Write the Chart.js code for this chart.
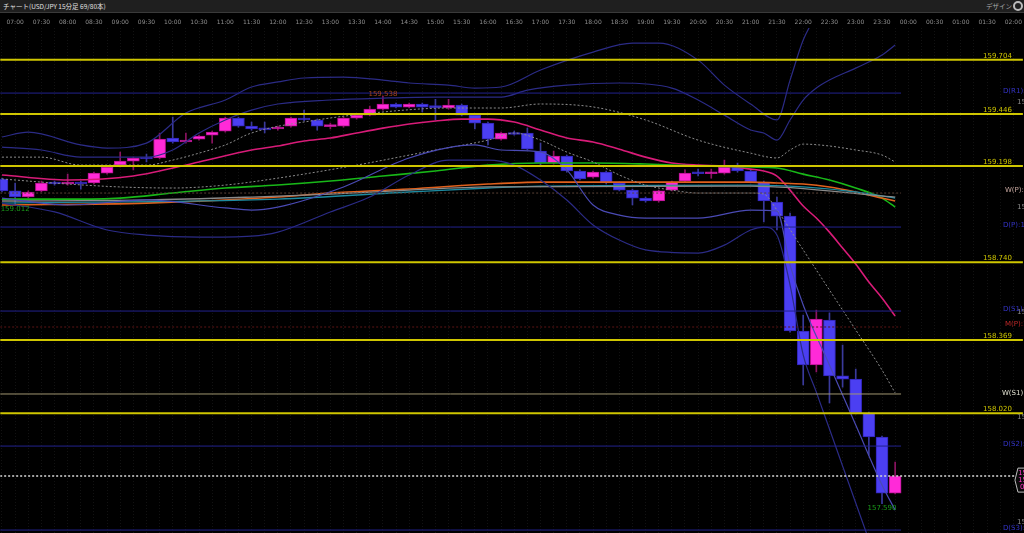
<!DOCTYPE html>
<html><head><meta charset="utf-8">
<script src="https://cdn.jsdelivr.net/npm/chart.js@4/dist/chart.umd.min.js"></script>
<style>
html,body{margin:0;padding:0;background:#000;width:1024px;height:533px;overflow:hidden;}
canvas{position:absolute;left:0;top:0;}
#hdr{position:absolute;left:0;top:0;width:1024px;height:12px;background:#1f1f1f;border-bottom:1px solid #3a3a3a;font:6.5px "Noto Sans CJK JP",sans-serif;color:#e0e0e0;}
#hdr .t{position:absolute;left:3px;top:0;line-height:12px;}
#hdr .r{position:absolute;right:12px;top:0;line-height:12px;color:#a8a8a8;}
#hdr .g{position:absolute;right:1px;top:1px;width:6px;height:6px;border-radius:50%;border:2px solid #bbb;}
</style></head>
<body>
<canvas id="c" width="1024" height="533"></canvas>
<div id="hdr"><span class="t">チャート(USD/JPY 15分足 69/80本)</span><span class="r">デザイン</span><span class="g"></span></div>
<script>
// ---- data ----
const FIRST_INDEX = -1; // first candle = 06:45, index 0 = 07:00, one index = 15 min
const X_MIN = -1.14, X_MAX = 76.73, Y_MIN = 157.450, Y_MAX = 159.855;
const timeLabels = ['07:00','07:30','08:00','08:30','09:00','09:30','10:00','10:30','11:00','11:30','12:00','12:30','13:00','13:30','14:00','14:30','15:00','15:30','16:00','16:30','17:00','17:30','18:00','18:30','19:00','19:30','20:00','20:30','21:00','21:30','22:00','22:30','23:00','23:30','00:00','00:30','01:00','01:30','02:00'];
const yTicks = [157.5, 158.0, 158.5, 159.0, 159.5];

const opens = [159.136,159.079,159.050,159.079,159.121,159.112,159.121,159.117,159.164,159.202,159.221,159.236,159.236,159.331,159.312,159.326,159.345,159.364,159.426,159.388,159.379,159.374,159.388,159.426,159.417,159.385,159.388,159.426,159.440,159.469,159.493,159.478,159.493,159.484,159.474,159.488,159.440,159.402,159.326,159.356,159.355,159.269,159.212,159.245,159.174,159.145,159.169,159.117,159.083,159.045,159.031,159.083,159.126,159.166,159.161,159.164,159.193,159.174,159.121,159.026,158.959,158.412,158.250,158.464,158.198,158.183,158.021,157.907,157.640];
const highs = [159.140,159.117,159.079,159.126,159.126,159.159,159.126,159.169,159.198,159.264,159.240,159.255,159.355,159.431,159.355,159.345,159.364,159.431,159.431,159.407,159.407,159.388,159.431,159.464,159.421,159.402,159.431,159.445,159.483,159.530,159.498,159.498,159.498,159.515,159.515,159.493,159.445,159.407,159.359,159.364,159.378,159.307,159.269,159.250,159.179,159.174,159.174,159.121,159.088,159.050,159.083,159.126,159.179,159.183,159.183,159.226,159.212,159.179,159.126,159.050,158.974,158.488,158.512,158.498,158.345,158.231,158.026,157.912,157.788];
const lows = [159.074,159.012,159.045,159.074,159.107,159.107,159.088,159.112,159.159,159.193,159.179,159.217,159.231,159.307,159.307,159.321,159.307,159.359,159.383,159.369,159.355,159.369,159.383,159.412,159.369,159.374,159.383,159.421,159.436,159.464,159.474,159.474,159.455,159.417,159.469,159.436,159.374,159.298,159.321,159.345,159.274,159.198,159.207,159.169,159.131,159.140,159.112,159.079,159.012,159.026,159.026,159.079,159.121,159.150,159.140,159.159,159.169,159.117,158.931,158.893,158.407,158.155,158.217,158.069,158.145,158.017,157.821,157.590,157.636];
const closes = [159.079,159.050,159.074,159.117,159.112,159.121,159.112,159.164,159.193,159.221,159.236,159.231,159.326,159.312,159.321,159.340,159.359,159.426,159.388,159.374,159.370,159.383,159.426,159.417,159.388,159.390,159.426,159.440,159.469,159.493,159.478,159.493,159.478,159.476,159.488,159.440,159.402,159.326,159.355,159.348,159.278,159.212,159.245,159.174,159.136,159.169,159.117,159.083,159.045,159.031,159.079,159.121,159.164,159.161,159.165,159.193,159.174,159.121,159.031,158.959,158.412,158.250,158.469,158.198,158.183,158.021,157.907,157.640,157.721];

const yellowLevels = [159.704, 159.446, 159.198, 158.740, 158.369, 158.020];
const dailyPivotNames = ['D(R1)','D(P)','D(S1)','D(S2)','D(S3)'];
const dailyPivotValues = [159.545, 158.907, 158.507, 157.864, 157.464];
const weeklyPivot = 159.069, monthlyPivot = 158.431, weeklyS1 = 158.112;
const lastPrice = 157.721, lastAsk = 157.724, spreadText = '0.3';
const highLabel = {idx: 28, value: 159.530, text: '159.538'};
const lowLabel = {idx: 66, value: 157.590, text: '157.590'};
const leftLowLabel = {idx: 0, value: 159.012, text: '159.012'};

// indicator lines: [candle index, price]
const maFast = [[-1,159.155],[4,159.131],[9,159.150],[14,159.217],[18,159.274],[20,159.293],[22,159.317],[24,159.331],[26,159.355],[28,159.378],[30,159.398],[32,159.412],[34,159.421],[36,159.421],[38,159.407],[40,159.369],[42,159.331],[44,159.312],[46,159.278],[48,159.240],[50,159.212],[52,159.202],[54,159.198],[56,159.183],[57,159.174],[58,159.150],[59,159.083],[60,159.007],[61,158.950],[62,158.883],[63,158.807],[64,158.731],[65,158.645],[66,158.569],[67,158.483]];
const maGreen = [[-1,159.040],[4,159.040],[8,159.045],[12,159.069],[16,159.093],[20,159.107],[24,159.126],[28,159.150],[32,159.174],[36,159.202],[40,159.212],[44,159.212],[48,159.207],[52,159.198],[56,159.193],[58,159.188],[60,159.159],[62,159.131],[64,159.093],[66,159.045],[67,159.002]];
const maOrange = [[-1,159.012],[10,159.021],[20,159.050],[24,159.069],[30,159.088],[36,159.112],[40,159.121],[56,159.121],[58,159.117],[60,159.112],[62,159.098],[64,159.074],[66,159.045],[67,159.031]];
const maTeal = [[-1,159.021],[20,159.040],[30,159.074],[36,159.093],[40,159.102],[56,159.107],[60,159.098],[64,159.074],[67,159.045]];
const maGrey = [[-1,159.031],[10,159.036],[18,159.050],[24,159.064],[30,159.083],[36,159.098],[56,159.102],[67,159.050]];
const bandMid = [[-1,159.240],[2,159.240],[5,159.202],[10,159.202],[12,159.226],[14,159.259],[16,159.298],[18,159.355],[23,159.417],[28,159.455],[33,159.474],[37,159.474],[40,159.493],[44,159.479],[48,159.417],[52,159.321],[56,159.259],[58,159.236],[59,159.274],[60,159.302],[62,159.293],[64,159.274],[66,159.250],[67,159.217]];
const fastDotted = [[-1,159.136],[4,159.112],[8,159.098],[12,159.093],[16,159.107],[20,159.140],[26,159.202],[32,159.274],[36,159.321],[38,159.355],[40,159.321],[42,159.264],[44,159.217],[46,159.155],[48,159.107],[50,159.083],[52,159.069],[56,159.069],[57,159.064],[58,158.988],[60,158.798],[62,158.607],[64,158.417],[66,158.226],[67,158.117]];
const upper2 = [[-1,159.336],[1,159.359],[5,159.298],[7,159.283],[10,159.307],[13,159.450],[16,159.512],[18,159.574],[20,159.598],[22,159.617],[25,159.621],[28,159.607],[30,159.593],[33,159.583],[35,159.569],[37,159.574],[40,159.655],[44,159.740],[47,159.783],[49,159.783],[52,159.702],[54,159.583],[56,159.493],[58,159.417],[59,159.607],[60,159.798],[61,159.917]];
const upper1 = [[-1,159.288],[2,159.274],[5,159.240],[10,159.240],[12,159.274],[14,159.355],[16,159.417],[18,159.464],[20,159.493],[24,159.512],[28,159.521],[32,159.526],[37,159.526],[39,159.559],[42,159.583],[46,159.593],[50,159.569],[52,159.512],[54,159.440],[56,159.369],[57,159.355],[58,159.321],[59,159.417],[60,159.512],[61,159.569],[62,159.607],[64,159.664],[66,159.726],[67,159.774]];
const lower1 = [[-1,159.045],[4,159.012],[10,159.036],[16,158.998],[18,158.988],[20,159.002],[25,159.098],[30,159.236],[35,159.298],[37,159.274],[40,159.264],[42,159.179],[44,159.012],[46,158.964],[48,158.950],[52,158.950],[56,158.988],[58,158.983],[59,158.726],[60,158.536],[62,158.250],[64,157.964],[66,157.679],[67,157.559]];
const lower2 = [[-1,159.021],[3,158.979],[7,158.893],[10,158.869],[14,158.859],[18,158.864],[20,158.883],[24,158.979],[27,159.050],[30,159.155],[33,159.226],[36,159.226],[38,159.202],[40,159.131],[42,159.036],[44,158.917],[46,158.845],[48,158.798],[52,158.783],[54,158.821],[56,158.893],[57,158.907],[58,158.869],[59,158.631],[60,158.298],[61,158.121],[62,157.945],[63,157.769],[64,157.593],[65,157.417]];

// ---- build ----
const PIVOT_END = 67.45;
const isUp = opens.map((o, i) => closes[i] >= o);
const BULL = '#ff2ad8', BULL_B = '#b3128e', BEAR = '#4b3ff2', BEAR_B = '#3024b4';
const WICK_UP = '#8c1462', WICK_DN = '#3a3a9c';

function lineDs(pts, color, width, dash, order) {
  return {type:'line', data: pts.map(p => ({x:p[0], y:p[1]})), borderColor: color, borderWidth: width,
    borderDash: dash || [], pointRadius: 0, cubicInterpolationMode: 'monotone', fill: false, order: order || 5};
}
function levelDs(v, x0, x1, color, width, dash, order) {
  return {type:'line', data: [{x:x0, y:v}, {x:x1, y:v}], borderColor: color, borderWidth: width,
    borderDash: dash || [], pointRadius: 0, fill: false, order: order || 3};
}

const datasets = [];
datasets.push({type:'bar', data: lows.map((l, i) => ({x: i + FIRST_INDEX, y: [l, highs[i]]})),
  backgroundColor: isUp.map(u => u ? WICK_UP : WICK_DN), barThickness: 1, grouped: false, order: 20});
datasets.push({type:'bar', data: opens.map((o, i) => ({x: i + FIRST_INDEX, y: [o, closes[i]]})),
  backgroundColor: isUp.map(u => u ? BULL : BEAR), borderColor: isUp.map(u => u ? BULL_B : BEAR_B),
  borderWidth: 1, borderSkipped: false, barThickness: 12, minBarLength: 2, grouped: false, order: 15});

datasets.push(lineDs(upper2, '#2b2b86', 1.2));
datasets.push(lineDs(upper1, '#2b2b86', 1.2));
datasets.push(lineDs(lower1, '#4a4ab4', 1.2));
datasets.push(lineDs(lower2, '#2b2b86', 1.2));
datasets.push(lineDs(bandMid, '#8c8c8c', 1, [2,2]));
datasets.push(lineDs(fastDotted, '#8c8c8c', 1, [2,2]));
datasets.push(lineDs(maGrey, '#8a8a8a', 1.3));
datasets.push(lineDs(maTeal, '#1c8aa0', 1.3));
datasets.push(lineDs(maOrange, '#e0601c', 1.6));
datasets.push(lineDs(maGreen, '#18b818', 1.6));
datasets.push(lineDs(maFast, '#d81b78', 1.6));

yellowLevels.forEach(v => datasets.push(levelDs(v, X_MIN, X_MAX, '#cfc600', 2, null, 2)));
dailyPivotValues.forEach(v => datasets.push(levelDs(v, X_MIN, PIVOT_END, '#22228e', 1, null, 4)));
datasets.push(levelDs(weeklyPivot, X_MIN, PIVOT_END, '#5a4236', 1, [2,2], 4));
datasets.push(levelDs(monthlyPivot, X_MIN, PIVOT_END, '#5c1414', 1, [2,2], 4));
datasets.push(levelDs(weeklyS1, X_MIN, PIVOT_END, '#a09670', 1, null, 4));
datasets.push(levelDs(lastPrice, X_MIN, X_MAX, '#d8d8d8', 1.5, [2,2], 1));

const labelPlugin = {
  id: 'levelLabels',
  afterDatasetsDraw(chart) {
    const {ctx, chartArea, scales: {x, y}} = chart;
    const R = chartArea.right;
    ctx.save();
    ctx.font = '7px "DejaVu Sans"';
    ctx.fillStyle = '#8a8a8a';
    ctx.textAlign = 'left';
    ctx.textBaseline = 'middle';
    yTicks.forEach(v => ctx.fillText(v.toFixed(3), R - 6, y.getPixelForValue(v)));
    ctx.textBaseline = 'alphabetic';
    ctx.textAlign = 'right';
    ctx.fillStyle = '#cfc600';
    yellowLevels.forEach(v => ctx.fillText(v.toFixed(3), R - 11, y.getPixelForValue(v) - 2));
    ctx.textAlign = 'left';
    ctx.textBaseline = 'middle';
    ctx.fillStyle = '#3434c8';
    dailyPivotNames.forEach((n, i) => ctx.fillText(n + ':' + dailyPivotValues[i].toFixed(3), R - 20, y.getPixelForValue(dailyPivotValues[i]) - 1.5));
    ctx.fillStyle = '#c8a8a0';
    ctx.fillText('W(P):' + weeklyPivot.toFixed(3), R - 18, y.getPixelForValue(weeklyPivot) - 3);
    ctx.fillStyle = '#c02828';
    ctx.fillText('M(P):' + monthlyPivot.toFixed(3), R - 18, y.getPixelForValue(monthlyPivot) - 3);
    ctx.fillStyle = '#e0e0d0';
    ctx.fillText('W(S1):' + weeklyS1.toFixed(3), R - 21, y.getPixelForValue(weeklyS1) - 1);
    ctx.textAlign = 'center';
    ctx.textBaseline = 'bottom';
    ctx.fillStyle = '#a8441c';
    ctx.fillText(highLabel.text, x.getPixelForValue(highLabel.idx), y.getPixelForValue(highLabel.value) + 1);
    ctx.textBaseline = 'top';
    ctx.fillStyle = '#1a9c1a';
    ctx.fillText(lowLabel.text, x.getPixelForValue(lowLabel.idx), y.getPixelForValue(lowLabel.value) + 1);
    ctx.fillText(leftLowLabel.text, x.getPixelForValue(leftLowLabel.idx), y.getPixelForValue(leftLowLabel.value) + 1);
    const py = y.getPixelForValue(lastPrice) + 4;
    const hx = R - 8;
    ctx.beginPath();
    ctx.moveTo(hx, py); ctx.lineTo(hx + 3, py - 12); ctx.lineTo(hx + 40, py - 12);
    ctx.lineTo(hx + 40, py + 12); ctx.lineTo(hx + 3, py + 12); ctx.closePath();
    ctx.fillStyle = '#0a0a0a'; ctx.fill();
    ctx.strokeStyle = '#bdbdbd'; ctx.lineWidth = 1; ctx.stroke();
    ctx.fillStyle = '#ff3cc8'; ctx.textAlign = 'left'; ctx.textBaseline = 'middle';
    ctx.fillText(lastPrice.toFixed(3), hx + 3, py - 7);
    ctx.fillText(lastAsk.toFixed(3), hx + 3, py);
    ctx.fillText(spreadText, hx + 5, py + 7);
    ctx.restore();
  }
};

Chart.defaults.font.family = '"DejaVu Sans", sans-serif';
new Chart(document.getElementById('c').getContext('2d'), {
  type: 'bar',
  data: {datasets},
  options: {
    responsive: false, animation: false, events: [],
    layout: {padding: {top: 13, left: 0, right: 0, bottom: 0}},
    plugins: {legend: {display: false}, tooltip: {enabled: false}},
    scales: {
      x: {type: 'linear', position: 'top', min: X_MIN, max: X_MAX, offset: false,
        afterFit(s) { s.height = 15; },
        afterBuildTicks(s) { const t = []; for (let v = -1; v <= 76; v++) t.push({value: v}); s.ticks = t; },
        ticks: {autoSkip: false, maxRotation: 0, padding: 2, color: '#8e8e8e', font: {size: 6},
          callback: v => (v >= 0 && v % 2 === 0) ? timeLabels[v / 2] : ''},
        grid: {color: 'rgba(255,255,255,0.07)', drawTicks: false, offset: false, borderDash: [1,2]},
        border: {display: false, dash: [1,2]}},
      y: {type: 'linear', position: 'right', min: Y_MIN, max: Y_MAX,
        afterFit(s) { s.width = 0; },
        afterBuildTicks(s) { s.ticks = yTicks.map(v => ({value: v})); },
        ticks: {display: false},
        grid: {display: false, drawTicks: false}, border: {display: false}}
    }
  },
  plugins: [labelPlugin]
});
</script>
</body></html>
